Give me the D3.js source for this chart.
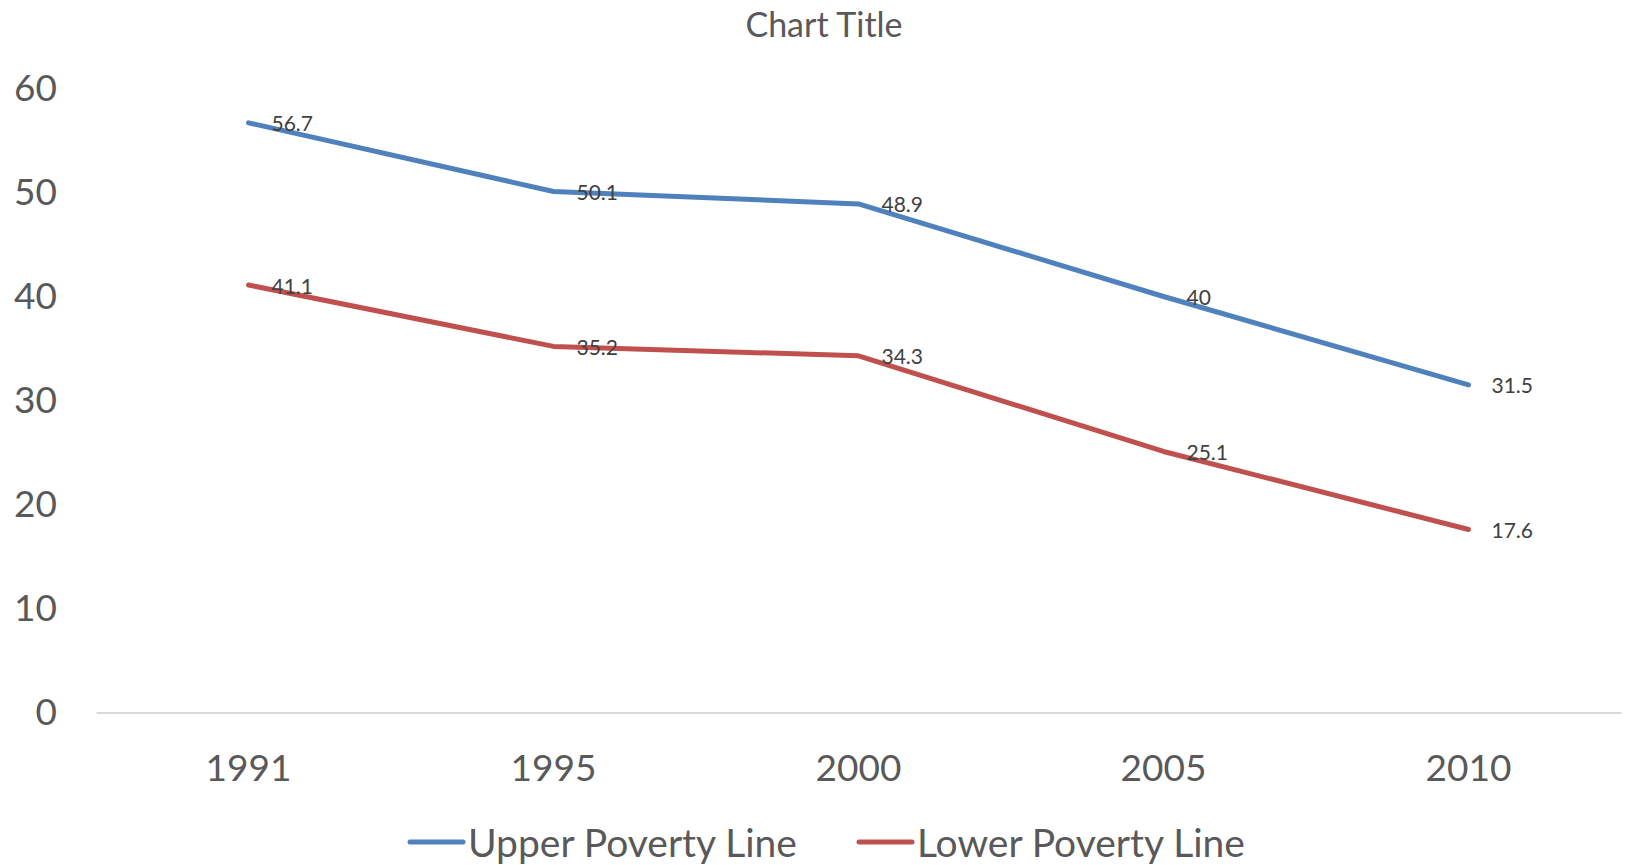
<!DOCTYPE html>
<html lang="en">
<head>
    <meta charset="UTF-8">
    <script src="https://d3js.org/d3.v7.min.js"></script>
    <title>Chart Title</title>
    <style>
        body { margin: 0; background: #fff; }
        svg { display: block; font-family: Lato, "Open Sans", sans-serif; }
    </style>
</head>
<body>
    <svg width="1626" height="865"></svg>
    <script>
        // data
        let years = ['1991', '1995', '2000', '2005', '2010'];
        let upper = [56.7, 50.1, 48.9, 40, 31.5];
        let lower = [41.1, 35.2, 34.3, 25.1, 17.6];
        let yTicks = [0, 10, 20, 30, 40, 50, 60];
        let seriesNames = ['Upper Poverty Line', 'Lower Poverty Line'];
        let colors = ['#4F81BD', '#C0504D'];

        let svg = d3.select('svg');
        let plotLeft = 96, plotRight = 1621, plotTop = 88.5, plotBottom = 712.5;

        let x = d3.scaleBand().domain(years).range([plotLeft, plotRight]);
        let y = d3.scaleLinear().domain([0, 60]).range([plotBottom, plotTop]);
        let cx = (d) => x(d) + x.bandwidth() / 2;

        // title
        svg.append('text')
            .attr('x', 824).attr('y', 23)
            .attr('text-anchor', 'middle')
            .attr('dominant-baseline', 'central')
            .attr('fill', '#595959')
            .style('font-size', '34px')
            .text('Chart Title');

        // y axis labels (no line)
        let yAxis = svg.append('g')
            .attr('transform', `translate(${plotLeft},0)`)
            .call(d3.axisLeft(y).tickValues(yTicks).tickSize(0).tickPadding(39));
        yAxis.select('.domain').remove();
        yAxis.selectAll('text')
            .attr('fill', '#595959')
            .style('font-size', '37px')
            .style('font-family', 'Lato, "Open Sans", sans-serif');

        // x axis
        let xAxis = svg.append('g')
            .attr('transform', `translate(0,${plotBottom})`)
            .call(d3.axisBottom(x).tickSize(0).tickPadding(42));
        xAxis.select('.domain').attr('stroke', '#d9d9d9').attr('stroke-width', 2);
        xAxis.selectAll('text')
            .attr('fill', '#595959')
            .style('font-size', '37px')
            .style('font-family', 'Lato, "Open Sans", sans-serif');

        // lines
        let line = d3.line()
            .x((d, i) => cx(years[i]))
            .y((d) => y(d));

        [upper, lower].forEach((vals, k) => {
            svg.append('path')
                .datum(vals)
                .attr('fill', 'none')
                .attr('stroke', colors[k])
                .attr('stroke-width', 5)
                .attr('stroke-linejoin', 'round')
                .attr('stroke-linecap', 'round')
                .attr('d', line);

            svg.selectAll('.lbl' + k)
                .data(vals)
                .enter()
                .append('text')
                .attr('class', 'lbl' + k)
                .attr('x', (d, i) => cx(years[i]) + 23)
                .attr('y', (d) => y(d))
                .attr('dominant-baseline', 'central')
                .attr('fill', '#404040')
                .style('font-size', '21px')
                .text((d) => d);
        });

        // legend
        let legendX = [410, 859];
        seriesNames.forEach((name, k) => {
            let g = svg.append('g').attr('transform', `translate(${legendX[k]},842)`);
            g.append('line')
                .attr('x1', 0).attr('x2', 53)
                .attr('stroke', colors[k])
                .attr('stroke-width', 5)
                .attr('stroke-linecap', 'round');
            g.append('text')
                .attr('x', 58)
                .attr('dominant-baseline', 'central')
                .attr('fill', '#595959')
                .style('font-size', '39px')
                .text(name);
        });
    </script>
</body>
</html>
